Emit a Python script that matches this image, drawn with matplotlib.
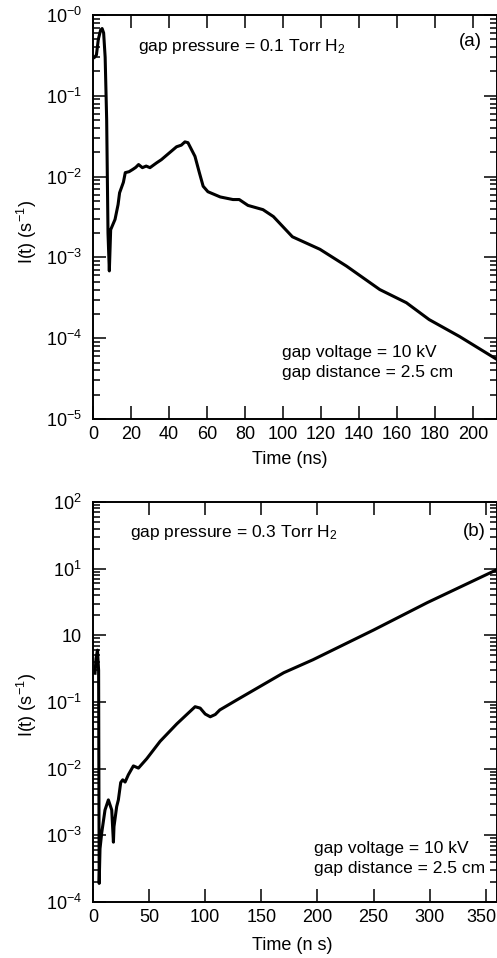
import matplotlib
matplotlib.use("Agg")
import matplotlib.pyplot as plt
import matplotlib.transforms as mtransforms
from matplotlib.ticker import LogLocator, FixedLocator, FixedFormatter, NullFormatter

plt.rcParams['font.family'] = ['Liberation Sans', 'DejaVu Sans']
plt.rcParams['mathtext.fontset'] = 'custom'
plt.rcParams['mathtext.rm'] = 'Liberation Sans'
plt.rcParams['mathtext.it'] = 'Liberation Sans:italic'
plt.rcParams['mathtext.bf'] = 'Liberation Sans:bold'

# ---- panel (a): gap pressure 0.1 Torr H2 ----
t_a = [0.8, 1.8, 2.8, 4.0, 4.8, 5.6, 6.4, 7.2, 7.9, 8.6, 9.3, 11.6, 13.2, 14.0, 16.0,
       17.0, 19.0, 21.0, 22.5, 24.0, 26.0, 28.0, 30.0, 33.5, 36.0, 39.0, 44.0, 46.5,
       48.4, 50.0, 53.7, 56.0, 58.0, 60.5, 67.0, 73.7, 77.0, 81.6, 89.5, 95.0, 105.0,
       119.5, 133.5, 151.0, 165.0, 177.0, 193.0, 213.0]
I_a = [0.30, 0.32, 0.50, 0.65, 0.68, 0.60, 0.30, 0.05, 2.0e-3, 6.8e-4, 2.2e-3, 2.95e-3,
       4.5e-3, 6.3e-3, 8.5e-3, 1.12e-2, 1.15e-2, 1.23e-2, 1.30e-2, 1.41e-2, 1.29e-2,
       1.35e-2, 1.29e-2, 1.48e-2, 1.62e-2, 1.86e-2, 2.34e-2, 2.45e-2, 2.69e-2, 2.63e-2,
       1.78e-2, 1.12e-2, 7.6e-3, 6.5e-3, 5.6e-3, 5.2e-3, 5.2e-3, 4.4e-3, 3.9e-3, 3.2e-3,
       1.8e-3, 1.26e-3, 7.8e-4, 4.0e-4, 2.75e-4, 1.7e-4, 1.05e-4, 5.4e-5]

# ---- panel (b): gap pressure 0.3 Torr H2 ----
t_b = [1.8, 2.7, 4.0, 5.0, 5.5, 6.25, 7.8, 10.7, 13.7, 16.7, 18.2, 18.7, 21.1, 22.6,
       23.5, 24.7, 26.5, 28.6, 31.5, 36.0, 40.5, 47.9, 59.8, 74.7, 83.6, 91.0, 95.5,
       100.0, 104.5, 109.0, 113.0, 128.0, 170.0, 196.0, 250.0, 298.0, 359.0]
I_b = [0.27, 0.45, 0.60, 0.30, 1.9e-4, 6.3e-4, 1.1e-3, 2.4e-3, 3.4e-3, 2.4e-3, 7.9e-4,
       1.35e-3, 2.7e-3, 3.4e-3, 4.4e-3, 6.2e-3, 6.8e-3, 6.3e-3, 8.1e-3, 1.10e-2, 1.02e-2,
       1.41e-2, 2.57e-2, 4.7e-2, 6.5e-2, 8.5e-2, 8.1e-2, 6.6e-2, 6.0e-2, 6.5e-2, 7.6e-2,
       0.107, 0.275, 0.43, 1.2, 3.1, 9.5]

xticks_a = [0, 20, 40, 60, 80, 100, 120, 140, 160, 180, 200]
yticks_a = [1e0, 1e-1, 1e-2, 1e-3, 1e-4, 1e-5]
ylabels_a = [r'$10^{-0}$', r'$10^{-1}$', r'$10^{-2}$', r'$10^{-3}$', r'$10^{-4}$', r'$10^{-5}$']

xticks_b = [0, 50, 100, 150, 200, 250, 300, 350]
yticks_b = [1e2, 1e1, 1e0, 1e-1, 1e-2, 1e-3, 1e-4]
ylabels_b = [r'$10^{2}$', r'$10^{1}$', '10', r'$10^{-1}$', r'$10^{-2}$', r'$10^{-3}$', r'$10^{-4}$']

W, H = 497, 958
fig = plt.figure(figsize=(W / 100, H / 100), dpi=100)

def px_axes(left, top, right, bottom):
    return fig.add_axes([left / W, 1 - bottom / H, (right - left) / W, (bottom - top) / H])

ax_a = px_axes(93, 15, 497.5, 419)
ax_b = px_axes(93, 502, 497.5, 902)

FS = 12.5

def style(ax, xticks, yticks, ylabels, xlim, ylim):
    ax.set_yscale('log')
    ax.set_xlim(*xlim)
    ax.set_ylim(*ylim)
    ax.xaxis.set_major_locator(FixedLocator(xticks))
    ax.set_xticklabels([str(v) for v in xticks])
    ax.yaxis.set_major_locator(FixedLocator(yticks))
    ax.yaxis.set_major_formatter(FixedFormatter(ylabels))
    ax.yaxis.set_minor_locator(LogLocator(base=10, subs=range(2, 10), numticks=20))
    ax.yaxis.set_minor_formatter(NullFormatter())
    ax.tick_params(which='both', direction='in', top=True, right=True, width=1.1,
                   labelsize=13, colors='black')
    ax.tick_params(which='major', length=9.5)
    ax.tick_params(which='minor', length=5)
    ax.tick_params(axis='x', pad=5)
    ax.tick_params(axis='y', pad=8)
    for s in ax.spines.values():
        s.set_linewidth(1.4)

style(ax_a, xticks_a, yticks_a, ylabels_a, (0, 213), (1e-5, 1e0))
style(ax_b, xticks_b, yticks_b, ylabels_b, (0, 360.5), (1e-4, 1e2))

# nudge the last bottom tick label slightly left so it stays inside the figure
last = ax_b.get_xticklabels()[-1]
last.set_transform(last.get_transform() +
                   mtransforms.ScaledTranslation(-4 / 100, 0, fig.dpi_scale_trans))

ax_a.plot(t_a, I_a, color='black', lw=2.2, solid_joinstyle='round')
ax_b.plot(t_b, I_b, color='black', lw=2.2, solid_joinstyle='round')

# annotations panel (a)
fig.text(138 / W, 1 - 47 / H, r'gap pressure = 0.1 Torr H$_2$', fontsize=FS, va='center', ha='left')
fig.text(482 / W, 1 - 41 / H, '(a)', fontsize=13.5, va='center', ha='right', fontweight='medium')
fig.text(282 / W, 1 - 353 / H, 'gap voltage = 10 kV', fontsize=FS, va='center', ha='left')
fig.text(282 / W, 1 - 373 / H, 'gap distance = 2.5 cm', fontsize=FS, va='center', ha='left')
fig.text(290 / W, 1 - 460 / H, 'Time (ns)', fontsize=13, va='center', ha='center')
fig.text(27 / W, 1 - 232 / H, r'I(t) (s$^{-1}$)', fontsize=13, va='center', ha='center', rotation=90)

# annotations panel (b)
fig.text(130 / W, 1 - 532 / H, r'gap pressure = 0.3 Torr H$_2$', fontsize=FS, va='center', ha='left')
fig.text(486 / W, 1 - 532 / H, '(b)', fontsize=13.5, va='center', ha='right', fontweight='medium')
fig.text(314 / W, 1 - 849 / H, 'gap voltage = 10 kV', fontsize=FS, va='center', ha='left')
fig.text(314 / W, 1 - 868 / H, 'gap distance = 2.5 cm', fontsize=FS, va='center', ha='left')
fig.text(292 / W, 1 - 946 / H, 'Time (n s)', fontsize=13, va='center', ha='center')
fig.text(27 / W, 1 - 705 / H, r'I(t) (s$^{-1}$)', fontsize=13, va='center', ha='center', rotation=90)

fig.savefig('out.png', dpi=100)
